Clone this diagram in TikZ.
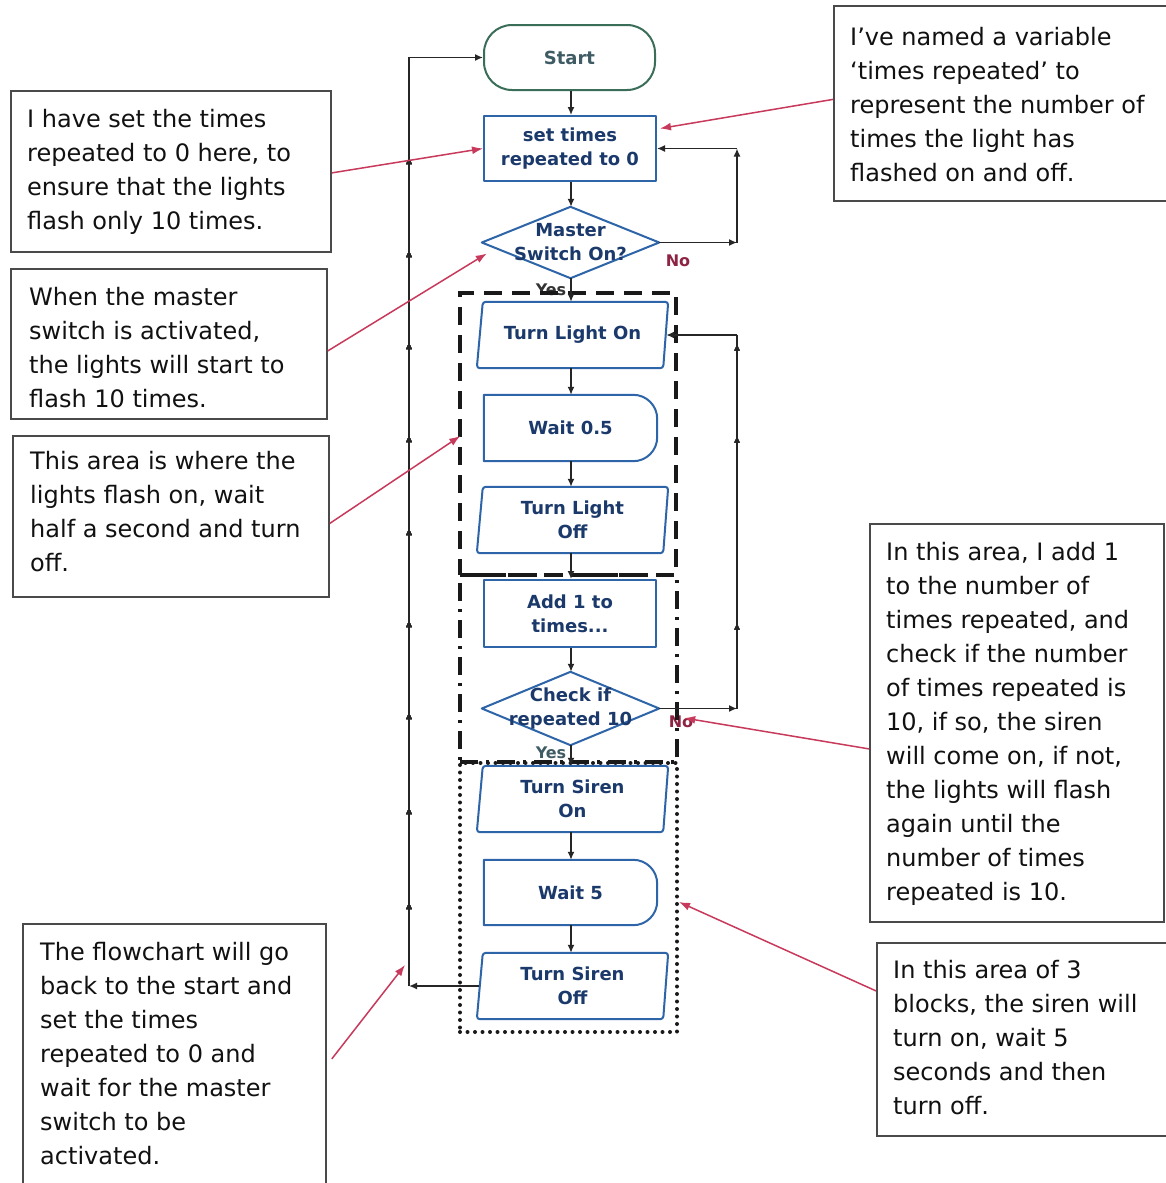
\documentclass[tikz,border=0pt]{standalone}
\usepackage{fontspec}
\setmainfont{DejaVu Sans}
\usetikzlibrary{arrows.meta,decorations.markings,calc}
\definecolor{navy}{HTML}{1B3A6B}
\definecolor{boxblue}{HTML}{2E64A8}
\definecolor{startgreen}{HTML}{3B6E58}
\definecolor{starttext}{HTML}{3F5B63}
\definecolor{callred}{HTML}{C83A5C}
\definecolor{nored}{HTML}{8E2444}
\definecolor{cgray}{HTML}{4A4A4A}
\definecolor{ctextc}{HTML}{111111}
\begin{document}
\begin{tikzpicture}[x=1pt,y=-1pt,
  blk/.style={minimum width=#1, minimum height=66pt, inner sep=0pt, align=center,
    font=\fontsize{18}{24}\selectfont\bfseries, text=navy},
  outl/.style={draw=boxblue, line width=2pt, line join=round, fill=white},
  flow/.style={draw=black!85, line width=1.5pt, -{Latex[length=8pt,width=7pt]}},
  plain/.style={draw=black!85, line width=1.5pt},
  call/.style={draw=callred, line width=1.5pt, -{Latex[length=11pt,width=8pt]}},
  cbox/.style={draw=cgray, line width=1.8pt, anchor=north west, inner sep=0pt},
  ctext/.style={anchor=north west, inner sep=0pt, align=left, text=ctextc,
    font=\fontsize{24}{34}\selectfont},
  lab/.style={inner sep=0pt, font=\fontsize{16}{20}\selectfont\bfseries},
  midarrow/.style={postaction={decorate}, decoration={markings,
    mark=at position #1 with {\arrow{Latex[length=7pt,width=6pt]}}}}
]
\clip (0,0) rectangle (1166,1183);
\fill[white] (0,0) rectangle (1166,1183);

% comment boxes
\node[cbox, minimum width=320pt, minimum height=161pt] (b1) at (10,90) {};
\node[cbox, minimum width=316pt, minimum height=150pt] (b2) at (10,268) {};
\node[cbox, minimum width=316pt, minimum height=161pt] (b3) at (12,435) {};
\node[cbox, minimum width=303pt, minimum height=277pt] (b4) at (22,923) {};
\node[cbox, minimum width=345pt, minimum height=195pt] (b5) at (833,5) {};
\node[cbox, minimum width=294pt, minimum height=398pt] (b6) at (869,523) {};
\node[cbox, minimum width=300pt, minimum height=193pt] (b7) at (876,942) {};

\node[ctext] (t1) at (27,103) {\strut I have set the times\\repeated to 0 here, to\\ensure that the lights\\flash only 10 times.};
\node[ctext] (t2) at (29,281) {\strut When the master\\switch is activated,\\the lights will start to\\flash 10 times.};
\node[ctext] (t3) at (30,445) {\strut This area is where the\\lights flash on, wait\\half a second and turn\\off.};
\node[ctext] (t4) at (40,936) {\strut The flowchart will go\\back to the start and\\set the times\\repeated to 0 and\\wait for the master\\switch to be\\activated.};
\node[ctext] (t5) at (850,21) {\strut I’ve named a variable\\‘times repeated’ to\\represent the number of\\times the light has\\flashed on and off.};
\node[ctext] (t6) at (886,536) {\strut In this area, I add 1\\to the number of\\times repeated, and\\check if the number\\of times repeated is\\10, if so, the siren\\will come on, if not,\\the lights will flash\\again until the\\number of times\\repeated is 10.};
\node[ctext] (t7) at (893,954) {\strut In this area of 3\\blocks, the siren will\\turn on, wait 5\\seconds and then\\turn off.};

% labels under group frames
\node[lab, text=black!80] (yes1) at (551,290) {Yes};
\node[lab, text=starttext] (yes2) at (551,753) {Yes};
\node[lab, text=nored] (no1) at (678,261) {No};
\node[lab, text=nored] (no2) at (681,722) {No};

% group frames
\node[draw=black!90, line width=3.5pt, dash pattern=on 18pt off 10pt, minimum width=216pt, minimum height=282pt, inner sep=0pt] (g1) at (568,434) {};
\node[draw=black!90, line width=3.5pt, dash pattern=on 18pt off 8pt on 3pt off 8pt, minimum width=217pt, minimum height=187pt, inner sep=0pt] (g2) at (568.5,668.5) {};
\node[draw=black!90, line width=4pt, line cap=round, dash pattern=on 0pt off 7.5pt, minimum width=217pt, minimum height=269pt, inner sep=0pt] (g3) at (568.5,897.5) {};

% flowchart nodes
\node[draw=startgreen, line width=2pt, fill=white, rounded corners=28pt, minimum width=171pt, minimum height=65pt,
  inner sep=0pt, text=starttext, font=\fontsize{18}{24}\selectfont\bfseries] (start) at (569.5,57.5) {Start};
\node[blk=172pt, minimum height=65pt, outl] (set) at (570,148.5) {set times\\repeated to 0};
\node[blk=177pt, minimum height=71pt] (ms) at (570.5,242.5) {};
\draw[outl] (ms.west) -- (ms.north) -- (ms.east) -- (ms.south) -- cycle;
\node[blk=177pt, minimum height=71pt] (mst) at (570.5,242.5) {Master\\Switch On?};

\node[blk=191pt] (tlon) at (572.5,335) {};
\draw[outl, rounded corners=3pt] ([xshift=6pt]tlon.north west) -- (tlon.north east) -- ([xshift=-5pt]tlon.south east) -- (tlon.south west) -- cycle;
\node[blk=191pt] (tlont) at (572.5,335) {Turn Light On};

\node[blk=173pt] (w05) at (570.5,428) {};
\draw[outl] (w05.north west) -- ([xshift=-24pt]w05.north east) arc[start angle=90, end angle=0, radius=24pt]
  -- ([yshift=24pt]w05.south east) arc[start angle=0, end angle=-90, radius=24pt] -- (w05.south west) -- cycle;
\node[blk=173pt] (w05t) at (570.5,428) {Wait 0.5};

\node[blk=191pt] (tloff) at (572.5,520) {};
\draw[outl, rounded corners=3pt] ([xshift=6pt]tloff.north west) -- (tloff.north east) -- ([xshift=-5pt]tloff.south east) -- (tloff.south west) -- cycle;
\node[blk=191pt] (tlofft) at (572.5,520) {Turn Light\\Off};

\node[blk=172pt, minimum height=67pt, outl] (add) at (570,613.5) {Add 1 to\\times...};

\node[blk=177pt, minimum height=73pt] (chk) at (570.5,708.5) {};
\draw[outl] (chk.west) -- (chk.north) -- (chk.east) -- (chk.south) -- cycle;
\node[blk=177pt, minimum height=73pt] (chkt) at (570.5,708.5) {Check if\\repeated 10};

\node[blk=191pt] (tson) at (572.5,799) {};
\draw[outl, rounded corners=3pt] ([xshift=6pt]tson.north west) -- (tson.north east) -- ([xshift=-5pt]tson.south east) -- (tson.south west) -- cycle;
\node[blk=191pt] (tsont) at (572.5,799) {Turn Siren\\On};

\node[blk=173pt, minimum height=65pt] (w5) at (570.5,892.5) {};
\draw[outl] (w5.north west) -- ([xshift=-24pt]w5.north east) arc[start angle=90, end angle=0, radius=24pt]
  -- ([yshift=24pt]w5.south east) arc[start angle=0, end angle=-90, radius=24pt] -- (w5.south west) -- cycle;
\node[blk=173pt, minimum height=65pt] (w5t) at (570.5,892.5) {Wait 5};

\node[blk=191pt] (tsoff) at (572.5,986) {};
\draw[outl, rounded corners=3pt] ([xshift=6pt]tsoff.north west) -- (tsoff.north east) -- ([xshift=-5pt]tsoff.south east) -- (tsoff.south west) -- cycle;
\node[blk=191pt] (tsofft) at (572.5,986) {Turn Siren\\Off};

% main flow
\draw[flow] (start.south -| 571,0) -- (set.north -| 571,0);
\draw[flow] (set.south -| 571,0) -- (ms.north -| 571,0);
\draw[flow] (ms.south -| 571,0) -- (tlon.north -| 571,0);
\draw[flow] (tlon.south -| 571,0) -- (w05.north -| 571,0);
\draw[flow] (w05.south -| 571,0) -- (tloff.north -| 571,0);
\draw[flow] (tloff.south -| 571,0) -- (add.north -| 571,0);
\draw[flow] (add.south -| 571,0) -- (chk.north -| 571,0);
\draw[flow] (chk.south -| 571,0) -- (tson.north -| 571,0);
\draw[flow] (tson.south -| 571,0) -- (w5.north -| 571,0);
\draw[flow] (w5.south -| 571,0) -- (tsoff.north -| 571,0);

% return loop on the left
\coordinate (lc) at (409,986);
\coordinate (lt) at (409,57.5);
\draw[flow] ([xshift=2pt]tsoff.west) -- (lc);
\draw[flow, midarrow=84pt, midarrow=179pt, midarrow=274pt, midarrow=366pt, midarrow=458pt,
  midarrow=551pt, midarrow=644pt, midarrow=736pt, midarrow=829pt] (lc) -- (lt) -- (start.west);

% No loop from master switch
\coordinate (r1a) at (737,242.5);
\coordinate (r1b) at (737,148.5);
\draw[flow] (ms.east) -- (r1a);
\draw[flow] (r1a) -- (r1b);
\draw[flow] (r1b) -- (set.east);

% No loop from check
\coordinate (r2a) at (737,708.5);
\coordinate (r2b) at (737,335);
\draw[flow] (chk.east) -- (r2a);
\draw[plain, midarrow=86pt, midarrow=273pt, midarrow=365pt] (r2a) -- (r2b);
\draw[flow] (r2b) -- ([xshift=-2pt]tlon.east);

% callouts
\draw[call] ([yshift=-1.5pt]b1.east) -- (set.west);
\draw[call] ([yshift=4pt]b5.west) -- ([shift={(3pt,20pt)}]set.east);
\draw[call] ([yshift=-7pt]b2.east) -- ([shift={(5pt,-11pt)}]ms.west);
\draw[call] ([yshift=-7pt]b3.east) -- ([shift={(2pt,-2pt)}]g1.west);
\draw[call] ([yshift=-26pt]b6.west) -- ([shift={(25pt,-9.5pt)}]chk.east);
\draw[call] ([yshift=48.5pt]b7.west) -- ([yshift=-4.5pt]g3.east);
\draw[call] ([shift={(5pt,3.5pt)}]b4.east) -- ([shift={(-4pt,21pt)}]lc);
\end{tikzpicture}
\end{document}
